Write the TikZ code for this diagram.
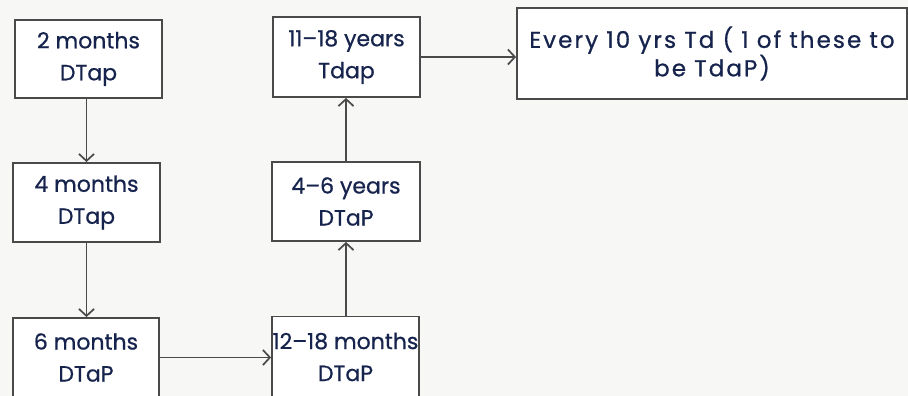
\documentclass[tikz,border=0pt]{standalone}
\usepackage{fontspec}
\newfontfamily\hand[FakeBold=0.7,Ligatures=TeX]{Poppins}
\newfontfamily\handwide[FakeBold=0.7,Ligatures=TeX,LetterSpace=9]{Poppins}
\usetikzlibrary{arrows.meta}
\definecolor{paper}{HTML}{F7F7F5}
\definecolor{ink}{HTML}{16244D}
\definecolor{pencil}{HTML}{4A4A4A}
\begin{document}
\begin{tikzpicture}[x=1pt,y=-1pt,
  box/.style={draw=pencil,line width=1.8pt,fill=white,text=ink,align=center,
    inner sep=0pt,font=\hand\fontsize{22}{32}\selectfont},
  link/.style={draw=pencil,line width=1.7pt,
    -{Straight Barb[length=7pt,width=15pt,line width=1.7pt]}}]
  % page
  \fill[paper] (0,0) rectangle (908,396);
  \useasboundingbox (0,0) rectangle (908,396);
  \begin{scope}
  \clip (0,0) rectangle (908,396);
  % vaccination steps
  \node[box,minimum width=147pt,minimum height=78pt] (m2) at (88.5,59) {2 months\\DTap};
  \node[box,minimum width=147pt,minimum height=79pt] (m4) at (86.5,202.5) {4 months\\DTap};
  \node[box,minimum width=146pt,minimum height=79pt] (m6) at (86,357.5) {6 months\\DTaP};
  \node[box,minimum width=147pt,minimum height=81pt] (m12) at (345.5,357) {12--18 months\\DTaP};
  \node[box,minimum width=148pt,minimum height=79pt] (y4) at (346,201.5) {4--6 years\\DTaP};
  \node[box,minimum width=147pt,minimum height=80pt] (y11) at (346.5,57) {11--18 years\\Tdap};
  \node[box,minimum width=390pt,minimum height=91pt,
    font=\handwide\fontsize{23}{25}\selectfont] (y10) at (712,53.5) {Every 10 yrs Td ( 1 of these to\\be TdaP)};
  % connectors
  \draw[link] (m2.south -| m4.north) -- (m4.north);
  \draw[link] (m4.south) -- (m6.north -| m4.south);
  \draw[link] (m6.east) -- (m6.east -| m12.west);
  \draw[link] (m12.north -| y4.south) -- (y4.south);
  \draw[link] (y4.north) -- (y11.south -| y4.north);
  \draw[link] (y11.east) -- (y11.east -| y10.west);
  \end{scope}
\end{tikzpicture}
\end{document}
